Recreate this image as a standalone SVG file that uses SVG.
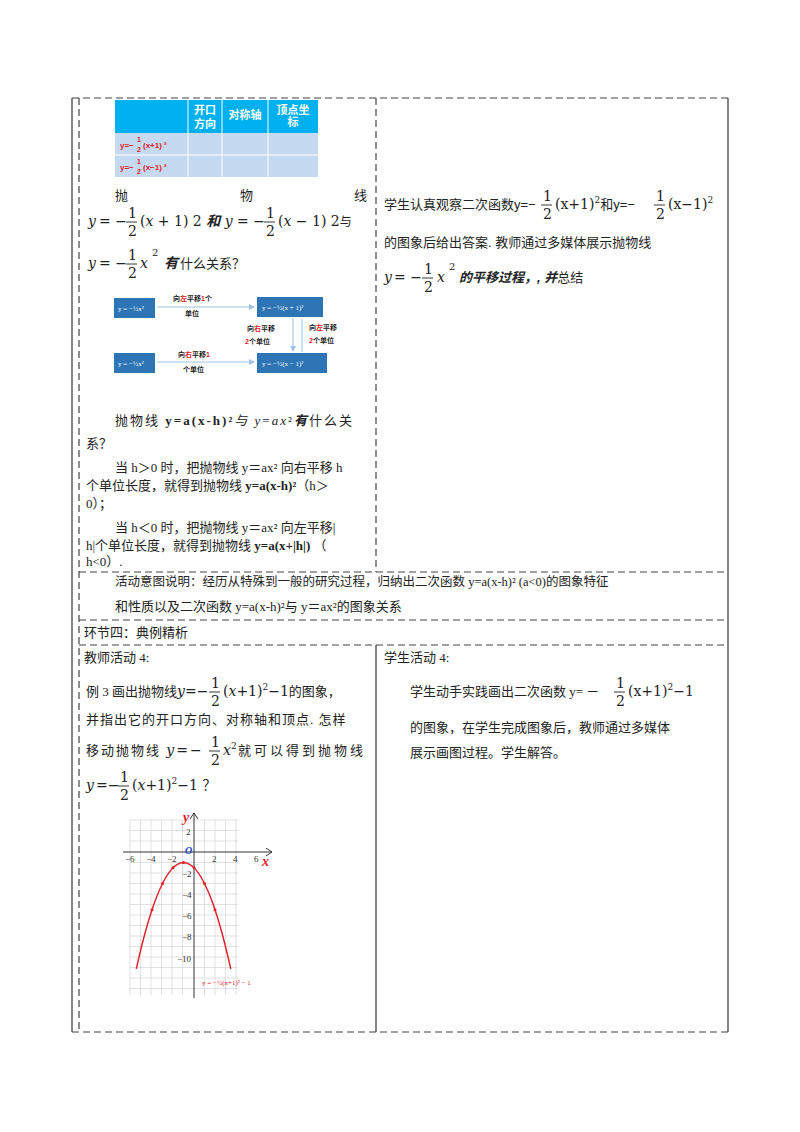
<svg xmlns="http://www.w3.org/2000/svg" width="800" height="1132" viewBox="0 0 800 1132">
<style>
text{font-family:"Liberation Serif","Noto Sans CJK SC",serif;font-size:13px;fill:#222}
.s{font-family:"Liberation Sans","Noto Sans CJK SC",sans-serif}
.m{font-family:"DejaVu Serif","Noto Sans CJK SC",serif;font-size:14px}
.i{font-style:italic}
.b{font-weight:bold}
.d{stroke:#444;stroke-width:1.2;stroke-dasharray:7,4;fill:none}
.l{stroke:#333;stroke-width:1.2;fill:none}
.fr{stroke:#222;stroke-width:0.9}
.wt{fill:#fff;font-family:"Liberation Sans","Noto Sans CJK SC",sans-serif;font-size:11px;font-weight:bold}
.bx{fill:#2E75B6}
.bl{fill:#fff;font-family:"Liberation Serif",serif;font-size:7px}
.fl{font-family:"Liberation Sans","Noto Sans CJK SC",sans-serif;font-size:7px;font-weight:bold}
.r{fill:#e0202a}
.g{stroke:#ccc;stroke-width:0.6}
.ax{font-family:"Liberation Serif",serif;font-size:9px;fill:#333}
</style>
<defs>
<marker id="ah" markerWidth="6" markerHeight="6" refX="5" refY="3" orient="auto"><path d="M0,0L6,3L0,6z" fill="#9dc3e6"/></marker>
<marker id="ax" markerWidth="8" markerHeight="8" refX="6" refY="4" orient="auto"><path d="M0,0L6,4L0,8" fill="none" stroke="#333" stroke-width="1"/></marker>
</defs>
<g id="frame">
<line class="l" x1="72" y1="98" x2="72" y2="1032"/>
<line class="d" x1="79" y1="98" x2="79" y2="1032"/>
<line class="d" x1="72" y1="98" x2="728" y2="98"/>
<line class="l" x1="728" y1="98" x2="728" y2="1032"/>
<line class="d" x1="376" y1="98" x2="376" y2="572"/>
<line class="d" x1="79" y1="572" x2="728" y2="572"/>
<line class="d" x1="79" y1="620" x2="728" y2="620"/>
<line class="d" x1="79" y1="645" x2="728" y2="645"/>
<line class="l" x1="376" y1="645" x2="376" y2="1032"/>
<line class="d" x1="72" y1="1032" x2="728" y2="1032"/>
</g>
<g id="table">
<rect x="115" y="100" width="203" height="33" fill="#00B0F0"/>
<rect x="115" y="133" width="203" height="44" fill="#C5D9F1"/>
<line x1="115" y1="155" x2="318" y2="155" stroke="#fff"/>
<line x1="188" y1="100" x2="188" y2="177" stroke="#fff"/>
<line x1="222" y1="100" x2="222" y2="177" stroke="#fff"/>
<line x1="268" y1="100" x2="268" y2="177" stroke="#fff"/>
<text class="wt" x="205" y="114" text-anchor="middle">开口</text>
<text class="wt" x="205" y="128" text-anchor="middle">方向</text>
<text class="wt" x="245" y="119" text-anchor="middle">对称轴</text>
<text class="wt" x="293" y="114" text-anchor="middle">顶点坐</text>
<text class="wt" x="293" y="126" text-anchor="middle">标</text>
<text class="r s b" x="120" y="148" style="font-size:8px">y=−</text><text class="r s b" x="137" y="142" style="font-size:7px">1</text><text class="r s b" x="137" y="152" style="font-size:7px">2</text><text class="r s b" x="143" y="148" style="font-size:8px">(x+1) ²</text>
<text class="r s b" x="120" y="170" style="font-size:8px">y=−</text><text class="r s b" x="137" y="164" style="font-size:7px">1</text><text class="r s b" x="137" y="174" style="font-size:7px">2</text><text class="r s b" x="143" y="170" style="font-size:8px">(x−1) ²</text>
</g>
<g id="q1">
<text x="115" y="200">抛</text><text x="240" y="200">物</text><text x="354" y="200">线</text>
<text class="m i" x="88" y="226">y</text><text class="m" x="99" y="226">= −</text>
<text class="m" x="128" y="218">1</text><line class="fr" x1="126" y1="222" x2="137" y2="222"/><text class="m" x="128" y="236">2</text>
<text class="m" x="140" y="226">(<tspan class="i">x</tspan> + 1) 2 <tspan class="i b">和</tspan> <tspan class="i">y</tspan> = −</text>
<text class="m" x="266" y="218">1</text><line class="fr" x1="264" y1="222" x2="275" y2="222"/><text class="m" x="266" y="236">2</text>
<text class="m" x="278" y="226">(<tspan class="i">x</tspan> − 1) 2<tspan class="s" style="font-size:12px">与</tspan></text>
<text class="m i" x="88" y="268">y</text><text class="m" x="99" y="268">= −</text>
<text class="m" x="128" y="260">1</text><line class="fr" x1="126" y1="264" x2="137" y2="264"/><text class="m" x="128" y="278">2</text>
<text class="m i" x="140" y="268">x</text><text class="m" x="152" y="256" style="font-size:10px">2</text>
<text class="m i b" x="164" y="268">有</text><text class="s" x="180" y="268">什么关系？</text>
</g>
<g id="flow">
<rect class="bx" x="114" y="298" width="41" height="20"/><text class="bl" x="118" y="311">y = −½x²</text>
<rect class="bx" x="257" y="297" width="66" height="20"/><text class="bl" x="262" y="310">y = −½(x + 1)²</text>
<rect class="bx" x="114" y="353" width="41" height="20"/><text class="bl" x="118" y="366">y = −½x²</text>
<rect class="bx" x="257" y="353" width="70" height="20"/><text class="bl" x="262" y="366">y = −½(x − 1)²</text>
<g id="connectors" stroke="#9dc3e6" stroke-width="1">
<line x1="157" y1="307" x2="254" y2="307" marker-end="url(#ah)"/>
<line x1="157" y1="362" x2="254" y2="362" marker-end="url(#ah)"/>
<line x1="293" y1="318" x2="293" y2="351" marker-end="url(#ah)"/>
<line x1="302" y1="352" x2="302" y2="319"/>
</g>
<text class="fl" x="173" y="301">向<tspan class="r">左</tspan>平移<tspan class="r">1</tspan>个</text>
<text class="fl" x="185" y="316">单位</text>
<text class="fl" x="247" y="331">向<tspan class="r">右</tspan>平移</text>
<text class="fl" x="245" y="344"><tspan class="r">2</tspan>个单位</text>
<text class="fl" x="309" y="330">向<tspan class="r">左</tspan>平移</text>
<text class="fl" x="309" y="343"><tspan class="r">2</tspan>个单位</text>
<text class="fl" x="178" y="357">向<tspan class="r">右</tspan>平移<tspan class="r">1</tspan></text>
<text class="fl" x="183" y="372">个单位</text>
</g>
<g id="q2">
<text x="115" y="425" letter-spacing="2">抛物线 <tspan class="b">y=a(x-h)²</tspan><tspan class="i s">与</tspan> <tspan class="i">y</tspan>=<tspan class="i">ax</tspan>²<tspan class="i b s">有</tspan>什么关</text>
<text x="86" y="448">系？</text>
<text x="115" y="472">当 h＞0 时，把抛物线 y＝ax² 向右平移 h</text>
<text x="86" y="490">个单位长度，就得到抛物线 <tspan class="b">y=a(x-h)²</tspan>（h＞</text>
<text x="86" y="508">0）；</text>
<text x="115" y="532">当 h＜0 时，把抛物线 y＝ax² 向左平移|</text>
<text x="86" y="550">h|个单位长度，就得到抛物线 <tspan class="b">y=a(x+|h|)</tspan> （</text>
<text x="86" y="566">h&lt;0）.</text>
</g>
<g id="a1">
<text class="s" x="384" y="209">学生认真观察二次函数y=−</text>
<text class="m" x="543" y="201">1</text><line class="fr" x1="541" y1="205" x2="552" y2="205"/><text class="m" x="543" y="219">2</text>
<text class="m" x="555" y="209">(x+1)<tspan dy="-6" style="font-size:9px">2</tspan><tspan dy="6" class="s" style="font-size:13px">和y=−</tspan></text>
<text class="m" x="656" y="201">1</text><line class="fr" x1="654" y1="205" x2="665" y2="205"/><text class="m" x="656" y="219">2</text>
<text class="m" x="668" y="209">(x−1)<tspan dy="-6" style="font-size:9px">2</tspan></text>
<text class="s" x="384" y="247">的图象后给出答案. 教师通过多媒体展示抛物线</text>
<text class="m i" x="384" y="282">y</text><text class="m" x="394" y="282">= −</text>
<text class="m" x="424" y="274">1</text><line class="fr" x1="422" y1="278" x2="433" y2="278"/><text class="m" x="424" y="292">2</text>
<text class="m i" x="437" y="282">x</text><text class="m" x="449" y="270" style="font-size:10px">2</text>
<text class="s i b" x="459" y="282">的平移过程，, 并<tspan class="s" style="font-weight:normal;font-style:normal">总结</tspan></text>
</g>
<g id="note">
<text x="115" y="586" style="font-size:12.5px">活动意图说明：经历从特殊到一般的研究过程，归纳出二次函数 y=a(x-h)² (a&lt;0)的图象特征</text>
<text x="115" y="611">和性质以及二次函数 y=a(x-h)²与 y＝ax²的图象关系</text>
<text x="84" y="637">环节四：典例精析</text>
</g>
<g id="teacher">
<text x="84" y="662">教师活动 4:</text>
<text x="86" y="696">例 3  画出抛物线<tspan class="m i">y</tspan><tspan class="m">=−</tspan></text>
<text class="m" x="211" y="688">1</text><line class="fr" x1="209" y1="692" x2="220" y2="692"/><text class="m" x="211" y="706">2</text>
<text class="m" x="223" y="696">(<tspan class="i">x</tspan>+1)<tspan dy="-6" style="font-size:9px">2</tspan><tspan dy="6">−1</tspan><tspan style="font-family:Liberation Serif,Noto Sans CJK SC,serif;font-size:13px">的图象，</tspan></text>
<text x="86" y="724" letter-spacing="1">并指出它的开口方向、对称轴和顶点. 怎样</text>
<text x="86" y="755" letter-spacing="2">移动抛物线 <tspan class="m i">y</tspan><tspan class="m">=−</tspan></text>
<text class="m" x="211" y="747">1</text><line class="fr" x1="209" y1="751" x2="220" y2="751"/><text class="m" x="211" y="765">2</text>
<text class="m i" x="223" y="755">x<tspan dy="-6" style="font-size:9px;font-style:normal">2</tspan></text>
<text x="238" y="755" letter-spacing="3">就可以得到抛物线</text>
<text class="m i" x="86" y="790">y</text><text class="m" x="96" y="790">=−</text>
<text class="m" x="120" y="782">1</text><line class="fr" x1="118" y1="786" x2="129" y2="786"/><text class="m" x="120" y="800">2</text>
<text class="m" x="132" y="790">(<tspan class="i">x</tspan>+1)<tspan dy="-6" style="font-size:9px">2</tspan><tspan dy="6">−1  ？</tspan></text>
</g>
<g id="graph">
<g class="g">
<line x1="130" y1="820" x2="130" y2="995"/><line x1="140.5" y1="820" x2="140.5" y2="995"/><line x1="151" y1="820" x2="151" y2="995"/><line x1="161.5" y1="820" x2="161.5" y2="995"/><line x1="172" y1="820" x2="172" y2="995"/><line x1="182.5" y1="820" x2="182.5" y2="995"/><line x1="204.5" y1="820" x2="204.5" y2="995"/><line x1="215" y1="820" x2="215" y2="995"/><line x1="225.5" y1="820" x2="225.5" y2="995"/><line x1="236" y1="820" x2="236" y2="995"/>
<line x1="130" y1="820" x2="238" y2="820"/><line x1="130" y1="830.5" x2="238" y2="830.5"/><line x1="130" y1="841" x2="238" y2="841"/><line x1="130" y1="862.5" x2="238" y2="862.5"/><line x1="130" y1="873" x2="238" y2="873"/><line x1="130" y1="883.5" x2="238" y2="883.5"/><line x1="130" y1="894" x2="238" y2="894"/><line x1="130" y1="904.5" x2="238" y2="904.5"/><line x1="130" y1="915" x2="238" y2="915"/><line x1="130" y1="925.5" x2="238" y2="925.5"/><line x1="130" y1="936" x2="238" y2="936"/><line x1="130" y1="946.5" x2="238" y2="946.5"/><line x1="130" y1="957" x2="238" y2="957"/><line x1="130" y1="967.5" x2="238" y2="967.5"/><line x1="130" y1="978" x2="238" y2="978"/><line x1="130" y1="988.5" x2="238" y2="988.5"/>
</g>
<line x1="123" y1="852" x2="272" y2="852" stroke="#333" marker-end="url(#ax)"/>
<line x1="194" y1="998" x2="194" y2="813" stroke="#333" marker-end="url(#ax)"/>
<text x="183" y="822" style="font-size:14px;font-style:italic;font-weight:bold;fill:#e0202a">y</text>
<text x="262" y="866" style="font-size:14px;font-style:italic;font-weight:bold;fill:#e0202a">x</text>
<text x="185" y="854" style="font-size:10px;font-style:italic;font-weight:bold;fill:#2040c0">O</text>
<text class="ax" x="125" y="862">−6</text><text class="ax" x="146" y="862">−4</text><text class="ax" x="167" y="862">−2</text><text class="ax" x="212" y="862">2</text><text class="ax" x="233" y="862">4</text><text class="ax" x="254" y="862">6</text>
<text class="ax" x="186" y="835">2</text><text class="ax" x="182" y="877">−2</text><text class="ax" x="182" y="898">−4</text><text class="ax" x="182" y="919">−6</text><text class="ax" x="182" y="940">−8</text><text class="ax" x="177" y="962">−10</text>
<path d="M136.3,968.8 Q183.5,756.2 230.75,968.8" fill="none" stroke="#e0202a" stroke-width="1.5"/>
<g fill="#e0202a"><circle cx="152" cy="909.8" r="1.5"/><circle cx="162.5" cy="883.5" r="1.5"/><circle cx="173" cy="867.8" r="1.5"/><circle cx="183.5" cy="862.5" r="1.5"/><circle cx="194" cy="867.8" r="1.5"/><circle cx="204.5" cy="883.5" r="1.5"/><circle cx="215" cy="909.8" r="1.5"/></g>
<text x="202" y="985" style="font-size:7px;fill:#e0202a">y = −½(x+1)² − 1</text>
</g>
<g id="student">
<text x="384" y="662">学生活动 4:</text>
<text x="410" y="696">学生动手实践画出二次函数 y= －</text>
<text class="m" x="616" y="688">1</text><line class="fr" x1="614" y1="692" x2="625" y2="692"/><text class="m" x="616" y="706">2</text>
<text class="m" x="628" y="696">(x+1)<tspan dy="-6" style="font-size:9px">2</tspan><tspan dy="6">−1</tspan></text>
<text x="410" y="732">的图象，在学生完成图象后，教师通过多媒体</text>
<text x="410" y="757">展示画图过程。学生解答。</text>
</g>
</svg>
